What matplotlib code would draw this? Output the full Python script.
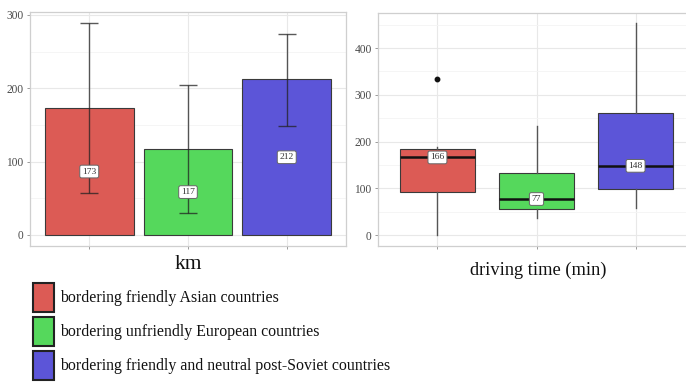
import matplotlib
matplotlib.use("Agg")
import matplotlib.pyplot as plt
from matplotlib.patches import Rectangle
from matplotlib.ticker import MultipleLocator

# Groups of destination countries
groups = [
    "bordering friendly Asian countries",
    "bordering unfriendly European countries",
    "bordering friendly and neutral post-Soviet countries",
]
colors = ["#dc5b55", "#55d85c", "#5c55d8"]

# Distance (km): mean and error range
km_mean = [173, 117, 212]
km_low = [57, 30, 148]
km_high = [289, 204, 274]

# Driving time (min): box statistics
time_med = [166, 77, 148]
time_q1 = [93, 55, 98]
time_q3 = [184, 133, 262]
time_whislo = [0, 37, 57]
time_whishi = [189, 233, 454]
time_fliers = [[333], [], []]

left_ticks = [0, 100, 200, 300]
right_ticks = [0, 100, 200, 300, 400]

SERIF = "Liberation Serif"
plt.rcParams["font.family"] = SERIF

W, H = 686, 382
fig = plt.figure(figsize=(W / 100, H / 100), dpi=100)


def px_axes(x0, y0, x1, y1):
    return fig.add_axes([x0 / W, 1 - y1 / H, (x1 - x0) / W, (y1 - y0) / H])


def style(ax, yticks, minor):
    ax.set_facecolor("white")
    for s in ax.spines.values():
        s.set_color("#cfcfcf")
        s.set_linewidth(0.9)
    ax.set_yticks(yticks)
    ax.yaxis.set_minor_locator(MultipleLocator(minor))
    ax.set_xticks([1, 2, 3])
    ax.set_xticklabels([])
    ax.grid(which="major", color="#e8e8e8", linewidth=0.8)
    ax.grid(which="minor", axis="y", color="#f4f4f4", linewidth=0.6)
    ax.set_axisbelow(True)
    ax.tick_params(which="major", length=2.5, width=0.7, color="#9a9a9a",
                   labelsize=8.3, labelcolor="#4a4a4a", pad=2)
    ax.tick_params(which="minor", length=0)
    for lab in ax.get_yticklabels():
        lab.set_fontfamily(SERIF)


def value_label(ax, x, y, txt):
    ax.text(x, y, txt, ha="center", va="center", fontsize=6.8, color="#333333",
            family=SERIF, zorder=6,
            bbox=dict(boxstyle="round,pad=0.25,rounding_size=0.2", fc="white",
                      ec="#666666", lw=0.7))


pos = [1, 2, 3]

# ---- Distance panel ----
ax1 = px_axes(30, 12, 346, 246)
ax1.bar(pos, km_mean, width=0.9, color=colors, edgecolor="#3a3a3a",
        linewidth=0.8, zorder=2)
err = [[m - lo for m, lo in zip(km_mean, km_low)],
       [hi - m for m, hi in zip(km_mean, km_high)]]
ax1.errorbar(pos, km_mean, yerr=err, fmt="none", ecolor="#222222", alpha=0.75,
             elinewidth=1.0, capsize=6.2, capthick=1.0, zorder=3)
for x, m in zip(pos, km_mean):
    value_label(ax1, x, m / 2, str(m))
ax1.set_xlim(0.4, 3.6)
ax1.set_ylim(-15, 304)
style(ax1, left_ticks, 50)
ax1.set_xlabel("km", fontsize=15.5, family=SERIF, color="#111111", labelpad=2)

# ---- Driving time panel ----
ax2 = px_axes(378, 13, 695, 246)
stats = []
for i in range(3):
    stats.append(dict(med=time_med[i], q1=time_q1[i], q3=time_q3[i],
                      whislo=time_whislo[i], whishi=time_whishi[i],
                      fliers=time_fliers[i]))
bp = ax2.bxp(stats, positions=pos, widths=0.75, patch_artist=True,
             showcaps=False,
             boxprops=dict(edgecolor="#3a3a3a", linewidth=0.8),
             whiskerprops=dict(color="#555555", linewidth=1.0),
             medianprops=dict(color="#111111", linewidth=1.8),
             flierprops=dict(marker="o", markerfacecolor="#111111",
                             markeredgecolor="#111111", markersize=3.2))
for patch, c in zip(bp["boxes"], colors):
    patch.set_facecolor(c)
    patch.set_zorder(2)
for x, m in zip(pos, time_med):
    value_label(ax2, x, m, str(m))
ax2.set_xlim(0.4, 3.6)
ax2.set_ylim(-23.5, 475)
style(ax2, right_ticks, 50)
ax2.spines["right"].set_visible(False)
ax2.set_xticks([1, 2, 3])
ax2.set_xticklabels([])
fig.text(538 / W, 1 - 270 / H, "driving time (min)", ha="center", va="center",
         fontsize=13.2, family=SERIF, color="#111111")

# ---- Legend ----
rows_y = [283, 317, 351]
for y0, c, g in zip(rows_y, colors, groups):
    fig.patches.append(Rectangle((33 / W, 1 - (y0 + 29) / H), 21 / W, 29 / H,
                                 transform=fig.transFigure, facecolor=c,
                                 edgecolor="#222222", linewidth=1.5))
    fig.text(60 / W, 1 - (y0 + 15) / H, g, ha="left", va="center",
             fontsize=11.4, family=SERIF, color="#111111")

fig.savefig("out.png", dpi=100)
